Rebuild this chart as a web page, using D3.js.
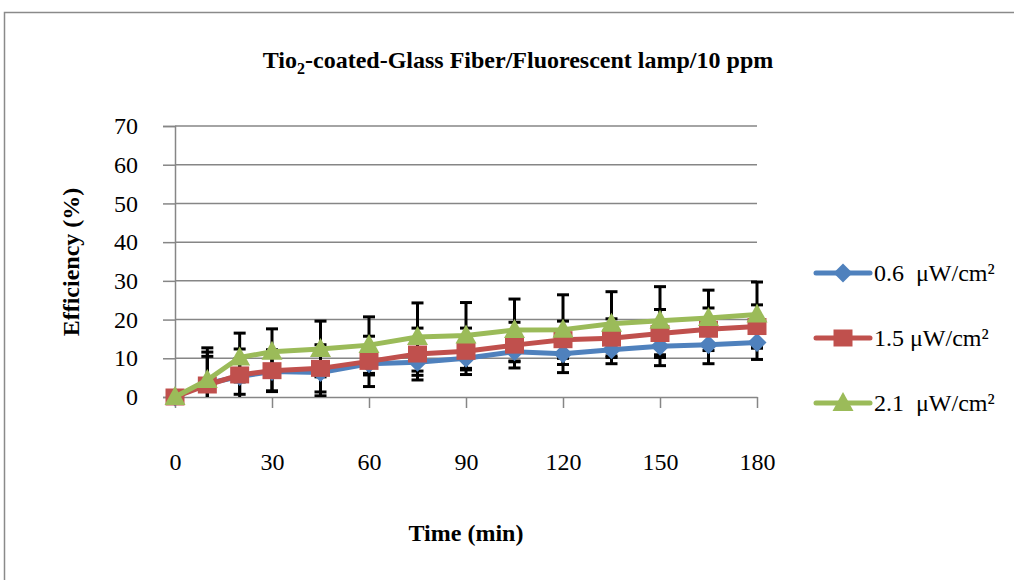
<!DOCTYPE html>
<html>
<head>
<meta charset="utf-8">
<script src="https://cdn.jsdelivr.net/npm/d3@7"></script>
<style>
  html, body { margin: 0; padding: 0; background: #fff; }
  svg { display: block; }
  text { font-family: "Liberation Serif", "Times New Roman", serif; fill: #000; }
</style>
</head>
<body>
<svg id="chart" width="1014" height="580"></svg>
<script>
// ---- data ----
const times = [0, 10, 20, 30, 45, 60, 75, 90, 105, 120, 135, 150, 165, 180];
const seriesNames = ["0.6  \u03bcW/cm\u00b2", "1.5 \u03bcW/cm\u00b2", "2.1  \u03bcW/cm\u00b2"];
const eff06 = [0, 3.5, 5.3, 6.6, 6.3, 8.6, 9.0, 10.0, 11.7, 11.2, 12.2, 13.1, 13.5, 14.1];
const eff15 = [0, 3.1, 5.7, 6.8, 7.4, 9.2, 11.1, 11.8, 13.4, 14.8, 15.2, 16.4, 17.5, 18.2];
const eff21 = [0, 4.4, 10.2, 11.7, 12.4, 13.4, 15.5, 15.9, 17.3, 17.4, 18.9, 19.7, 20.4, 21.3];
const err06 = [0, 7.0, 4.6, 5.0, 6.0, 2.9, 3.4, 3.0, 2.6, 4.9, 3.6, 5.0, 4.9, 4.4];
const err15 = [0, 8.5, 6.7, 5.4, 6.1, 6.5, 6.7, 6.0, 5.9, 4.8, 5.0, 6.2, 5.5, 5.6];
const err21 = [0, 8.3, 6.3, 5.9, 7.2, 7.3, 8.8, 8.5, 8.0, 9.0, 8.3, 8.8, 7.2, 8.4];
const yTicks = [0, 10, 20, 30, 40, 50, 60, 70];
const xTicks = [0, 30, 60, 90, 120, 150, 180];
const titleMain = "Tio";
const titleSub = "2";
const titleRest = "-coated-Glass Fiber/Fluorescent lamp/10 ppm";
const xTitle = "Time (min)";
const yTitle = "Efficiency (%)";

const colors = ["#4F81BD", "#C0504D", "#9BBB59"];
const series = [
  { name: seriesNames[0], values: eff06, errs: err06, color: colors[0], symbol: "diamond" },
  { name: seriesNames[1], values: eff15, errs: err15, color: colors[1], symbol: "square" },
  { name: seriesNames[2], values: eff21, errs: err21, color: colors[2], symbol: "triangle" }
];

const FS = "24px";
const svg = d3.select("#chart");

// outer frame
svg.append("rect")
  .attr("x", 4.5).attr("y", 12.5).attr("width", 1100).attr("height", 700)
  .attr("fill", "none").attr("stroke", "#8a8a8a").attr("stroke-width", 1.5);

const x = d3.scaleLinear().domain([0, 180]).range([175, 757]);
const y = d3.scaleLinear().domain([0, 70]).range([397, 126]);

// gridlines
svg.append("g").selectAll("line").data(yTicks.filter(d => d > 0)).join("line")
  .attr("x1", x(0)).attr("x2", x(180))
  .attr("y1", d => y(d)).attr("y2", d => y(d))
  .attr("stroke", "#868686").attr("stroke-width", 1.5);

// y axis
const yAxis = svg.append("g").attr("transform", `translate(${x(0)},0)`)
  .call(d3.axisLeft(y).tickValues(yTicks).tickSize(12).tickPadding(25).tickFormat(d3.format("d")));
yAxis.select(".domain").attr("stroke", "#868686").attr("stroke-width", 1.5);
yAxis.selectAll(".tick line").attr("stroke", "#868686").attr("stroke-width", 1.5);
yAxis.selectAll("text").style("font-size", FS).style("font-family", "Liberation Serif").attr("fill", "#000");

// x axis
const xAxis = svg.append("g").attr("transform", `translate(0,${y(0)})`)
  .call(d3.axisBottom(x).tickValues(xTicks).tickSize(11).tickPadding(45).tickSizeOuter(0));
xAxis.select(".domain").attr("stroke", "#868686").attr("stroke-width", 1.5);
xAxis.selectAll(".tick line").attr("stroke", "#868686").attr("stroke-width", 1.5);
xAxis.selectAll("text").style("font-size", FS).style("font-family", "Liberation Serif").attr("fill", "#000");

// error bars (clipped to plot area)
svg.append("clipPath").attr("id", "plotclip").append("rect")
  .attr("x", 150).attr("y", y(70)).attr("width", 650).attr("height", y(0) - y(70));
const eg = svg.append("g").attr("clip-path", "url(#plotclip)");
series.forEach(s => {
  times.forEach((t, i) => {
    const e = s.errs[i];
    if (!e) return;
    const hi = s.values[i] + e, lo = s.values[i] - e;
    const cx = x(t);
    eg.append("line").attr("x1", cx).attr("x2", cx).attr("y1", y(hi)).attr("y2", y(lo))
      .attr("stroke", "#000").attr("stroke-width", 3);
    [hi, lo].forEach(v => {
      eg.append("line").attr("x1", cx - 6).attr("x2", cx + 6).attr("y1", y(v)).attr("y2", y(v))
        .attr("stroke", "#000").attr("stroke-width", 3);
    });
  });
});

// marker shapes
function markerPath(type) {
  if (type === "diamond") return "M0,-9.5 L9.5,0 L0,9.5 L-9.5,0 Z";
  if (type === "square") return "M-9.5,-8.5 H9.5 V8.5 H-9.5 Z";
  return "M0,-11 L10.5,8 L-10.5,8 Z";
}

const line = d3.line().x((d, i) => x(times[i])).y(d => y(d));
series.forEach(s => {
  svg.append("path").datum(s.values).attr("d", line)
    .attr("fill", "none").attr("stroke", s.color).attr("stroke-width", 5)
    .attr("stroke-linejoin", "round").attr("stroke-linecap", "round");
  svg.append("g").selectAll("path").data(s.values).join("path")
    .attr("transform", (d, i) => `translate(${x(times[i])},${y(d)})`)
    .attr("d", markerPath(s.symbol)).attr("fill", s.color);
});

// title
const title = svg.append("text").attr("x", 518).attr("y", 68).attr("text-anchor", "middle")
  .style("font-size", FS).style("font-weight", "bold");
title.append("tspan").text(titleMain);
title.append("tspan").attr("dy", 6).style("font-size", "16px").text(titleSub);
title.append("tspan").attr("dy", -6).text(titleRest);

// axis titles
svg.append("text").attr("x", 466).attr("y", 541).attr("text-anchor", "middle")
  .style("font-size", FS).style("font-weight", "bold").text(xTitle);
svg.append("text").attr("transform", "translate(79,262) rotate(-90)").attr("text-anchor", "middle")
  .style("font-size", FS).style("font-weight", "bold").text(yTitle);

// legend
const legendY = [273, 338, 403];
series.forEach((s, i) => {
  const g = svg.append("g").attr("transform", `translate(0,${legendY[i]})`);
  g.append("line").attr("x1", 816).attr("x2", 870).attr("y1", 0).attr("y2", 0)
    .attr("stroke", s.color).attr("stroke-width", 5).attr("stroke-linecap", "round");
  g.append("path").attr("transform", "translate(843,0)").attr("d", markerPath(s.symbol)).attr("fill", s.color);
  g.append("text").attr("x", 874).attr("y", 8).style("font-size", FS)
    .style("white-space", "pre").attr("xml:space", "preserve").text(s.name);
});
</script>
</body>
</html>
